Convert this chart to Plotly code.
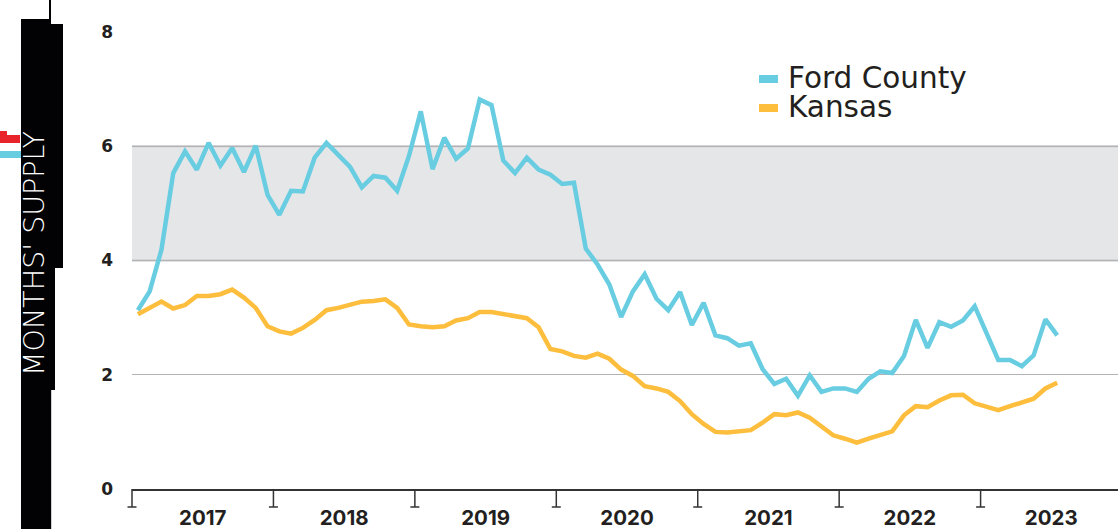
import plotly.graph_objects as go
import pandas as pd

# ---------------- data ----------------
months = pd.date_range("2017-01-01", periods=79, freq="MS").strftime("%b %Y").tolist()
month_index = list(range(len(months)))

ford_county = [3.13, 3.46, 4.19, 5.53, 5.91, 5.59, 6.06, 5.66, 5.97, 5.55, 6.01, 5.15,
               4.80, 5.22, 5.21, 5.80, 6.06, 5.85, 5.64, 5.28, 5.48, 5.45, 5.22, 5.83,
               6.61, 5.60, 6.15, 5.78, 5.96, 6.82, 6.72, 5.75, 5.53, 5.80, 5.59, 5.50,
               5.34, 5.36, 4.21, 3.93, 3.58, 3.01, 3.46, 3.76, 3.33, 3.13, 3.45, 2.87,
               3.26, 2.69, 2.64, 2.51, 2.55, 2.10, 1.84, 1.93, 1.63, 1.99, 1.70, 1.76,
               1.76, 1.70, 1.93, 2.06, 2.03, 2.33, 2.96, 2.47, 2.92, 2.84, 2.95, 3.20,
               2.73, 2.26, 2.26, 2.15, 2.34, 2.97, 2.69]

kansas = [3.06, 3.18, 3.28, 3.16, 3.22, 3.38, 3.38, 3.41, 3.49, 3.35, 3.17, 2.85,
          2.76, 2.72, 2.82, 2.96, 3.13, 3.17, 3.23, 3.28, 3.29, 3.32, 3.17, 2.88,
          2.85, 2.83, 2.85, 2.95, 2.99, 3.10, 3.10, 3.06, 3.01, 2.99, 2.83, 2.45,
          2.41, 2.33, 2.30, 2.37, 2.28, 2.09, 1.98, 1.80, 1.76, 1.70, 1.54, 1.31,
          1.14, 1.00, 0.99, 1.01, 1.03, 1.16, 1.31, 1.29, 1.34, 1.25, 1.10, 0.94,
          0.88, 0.81, 0.88, 0.94, 1.01, 1.29, 1.45, 1.43, 1.55, 1.64, 1.65, 1.50,
          1.45, 1.38, 1.45, 1.51, 1.58, 1.76, 1.86]

year_labels = ["2017", "2018", "2019", "2020", "2021", "2022", "2023"]
y_ticks = [0, 2, 4, 6, 8]
balanced_band = [4, 6]

series_names = ["Ford County", "Kansas"]
series_colors = ["#69CDE2", "#FDBD3D"]

# ---------------- layout geometry ----------------
W, H = 1118, 529
L, R, T, B = 132, 0, 32, 40
PW, PH = W - L - R, H - T - B
MONTH_PX = 11.786
x_range = [-0.5, -0.5 + PW / MONTH_PX]

def px(xp):
    return (xp - L) / PW

def py(yp):
    return (H - B - yp) / PH

def xpaper(v):
    return (v - x_range[0]) / (x_range[1] - x_range[0])

year_bounds = [12 * k - 0.5 for k in range(len(year_labels) + 1)]
year_mids = [12 * k + 5.5 for k in range(len(year_labels))]
visible_bounds = [b for b in year_bounds if b <= x_range[1]]

INK = "#231F20"
AXIS = "#333333"

fig = go.Figure()
for name, vals, col in zip(series_names, [ford_county, kansas], series_colors):
    fig.add_trace(go.Scatter(
        x=month_index, y=vals, name=name, mode="lines",
        line=dict(color=col, width=4.5),
        customdata=months,
        hovertemplate="%{customdata}: %{y:.2f}<extra>" + name + "</extra>",
        showlegend=False,
    ))

shapes = []
# balanced-market band
shapes.append(dict(type="rect", xref="paper", yref="y", x0=0, x1=1,
                   y0=balanced_band[0], y1=balanced_band[1],
                   fillcolor="#E5E6E8", line=dict(width=0), layer="below"))
for v in balanced_band:
    shapes.append(dict(type="line", xref="paper", yref="y", x0=0, x1=1, y0=v, y1=v,
                       line=dict(color="#C4C5C9", width=2), layer="between"))
# year-boundary ticks with feet
tick_len = 18 / PH
foot_half = 4.5 / PW
for b in visible_bounds:
    xb = xpaper(b)
    shapes.append(dict(type="line", xref="paper", yref="paper", x0=xb, x1=xb,
                       y0=0, y1=-tick_len, line=dict(color=AXIS, width=1.5),
                       layer="above"))
    shapes.append(dict(type="line", xref="paper", yref="paper",
                       x0=xb - foot_half, x1=xb + foot_half,
                       y0=-tick_len, y1=-tick_len, line=dict(color=AXIS, width=1.5),
                       layer="above"))

# left decoration (cropped black axis-title tab)
def rect_px(x0, y0, x1, y1, color):
    return dict(type="rect", xref="paper", yref="paper",
                x0=px(x0), x1=px(x1), y0=py(y1), y1=py(y0),
                fillcolor=color, line=dict(width=0), layer="above")

shapes += [
    rect_px(21, 19, 51, 529, "#020204"),
    rect_px(50, 24, 63, 268, "#020204"),
    rect_px(50, 268, 55, 390, "#020204"),
    rect_px(49, 0, 51, 19, "#020204"),
    rect_px(51, 390, 52, 529, "#D0D0D0"),
    rect_px(0, 131, 7, 136, "#E8232A"),
    rect_px(0, 135, 20, 143, "#E8232A"),
    rect_px(0, 151, 21, 158, "#69CDE2"),
]

# legend (drawn manually)
legend_x0, legend_x1 = 759, 778
legend_rows = [79, 108]
for yy, col in zip(legend_rows, series_colors):
    shapes.append(dict(type="line", xref="paper", yref="paper",
                       x0=px(legend_x0), x1=px(legend_x1), y0=py(yy), y1=py(yy),
                       line=dict(color=col, width=8), layer="above"))

annotations = []
for yy, name in zip(legend_rows, series_names):
    annotations.append(dict(xref="paper", yref="paper", x=px(786), y=py(yy - 1),
                            xanchor="left", yanchor="middle", showarrow=False,
                            text=name, font=dict(family="DejaVu Sans, sans-serif",
                                                 size=29.5, color=INK)))
annotations.append(dict(xref="paper", yref="paper", x=px(34), y=py(254),
                        xanchor="center", yanchor="middle", showarrow=False,
                        textangle=-90, text="MONTHS' SUPPLY",
                        font=dict(family="DejaVu Sans, sans-serif", size=28.5,
                                  color="white", weight=300)))

fig.update_layout(
    width=W, height=H,
    margin=dict(l=L, r=R, t=T, b=B, pad=0, autoexpand=False),
    paper_bgcolor="white", plot_bgcolor="white",
    shapes=shapes, annotations=annotations,
    showlegend=False,
    xaxis=dict(
        range=x_range, showgrid=False, zeroline=False, automargin=False,
        showline=True, linecolor=AXIS, linewidth=1.5,
        tickmode="array", tickvals=year_mids, ticktext=year_labels,
        ticks="", ticklabelstandoff=10,
        tickfont=dict(family="Inter, Roboto, sans-serif", size=20.5, color=INK, weight=700),
        fixedrange=True,
    ),
    yaxis=dict(
        range=[0, 8], tickmode="array", tickvals=y_ticks, automargin=False,
        showgrid=True, gridcolor="#B3B3B3", gridwidth=1,
        zeroline=False, showline=False, ticks="", ticklabelstandoff=18,
        tickfont=dict(family="DejaVu Sans, sans-serif", size=17, color=INK, weight=700),
        fixedrange=True,
    ),
)

fig.write_html("out.html", post_script="document.body.style.margin='0';",
               config={"displayModeBar": False})
